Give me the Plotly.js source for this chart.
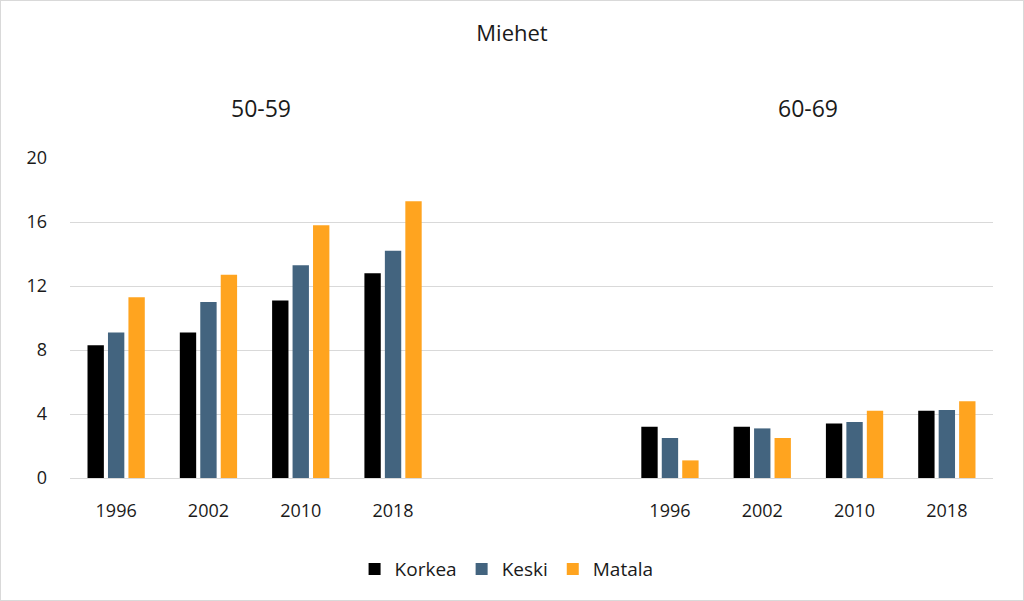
<!DOCTYPE html>
<html>
<head>
<meta charset="utf-8">
<script src="https://cdn.plot.ly/plotly-3.0.1.min.js"></script>
<style>
  html, body { margin: 0; padding: 0; background: #ffffff; }
  #chart { width: 1024px; height: 601px; box-sizing: border-box; border: 1px solid #d9d9d9; }
</style>
</head>
<body>
<div id="chart"></div>
<script>
// ---- Data ----
const years = ["1996", "2002", "2010", "2018"];
const groupLabels = ["50-59", "60-69"];
const seriesNames = ["Korkea", "Keski", "Matala"];

const korkea5059 = [8.3, 9.1, 11.1, 12.8];
const keski5059  = [9.1, 11.0, 13.3, 14.2];
const matala5059 = [11.3, 12.7, 15.8, 17.3];

const korkea6069 = [3.2, 3.2, 3.4, 4.2];
const keski6069  = [2.5, 3.1, 3.5, 4.25];
const matala6069 = [1.1, 2.5, 4.2, 4.8];

const yTicks = [0, 4, 8, 12, 16, 20];

// ---- Build traces ----
const colors = ["#000000", "#43647f", "#ffa41f"];
const FONT = "Open Sans, Noto Sans, sans-serif";
const TXT = "#1a1a1a";

// positions: group 1 at indices 0..3, two empty slots, group 2 at 6..9
const xG1 = years.map((_, i) => i);
const xG2 = years.map((_, i) => i + years.length + 2);
const xAll = xG1.concat(xG2);
const tickText = years.concat(years);

const seriesData = [
  korkea5059.concat(korkea6069),
  keski5059.concat(keski6069),
  matala5059.concat(matala6069)
];

const traces = seriesNames.map((name, k) => ({
  type: "bar",
  name: name,
  x: xAll,
  y: seriesData[k],
  marker: { color: colors[k] },
  hoverinfo: "name+y"
}));

const nCat = years.length * 2 + 2;
const g1Center = (xG1[0] + xG1[xG1.length - 1]) / 2;
const g2Center = (xG2[0] + xG2[xG2.length - 1]) / 2;

const layout = {
  width: 1022,
  height: 599,
  margin: { l: 69, r: 30, t: 157, b: 122 },
  paper_bgcolor: "#ffffff",
  plot_bgcolor: "#ffffff",
  font: { family: FONT, color: TXT, size: 18 },
  title: {
    text: "Miehet",
    font: { family: FONT, size: 22, color: TXT },
    x: 511 / 1022, xanchor: "center",
    y: 1 - 32 / 599, yanchor: "middle",
    xref: "container", yref: "container"
  },
  barmode: "group",
  bargap: 0.335,
  bargroupgap: 0.2,
  showlegend: true,
  legend: {
    orientation: "h",
    x: 0.473, xanchor: "center",
    y: -0.285, yanchor: "middle",
    font: { family: FONT, size: 19, color: TXT },
    itemwidth: 30,
    traceorder: "normal"
  },
  xaxis: {
    range: [-0.5, nCat - 0.5],
    tickmode: "array",
    tickvals: xAll,
    ticktext: tickText,
    showgrid: false,
    zeroline: false,
    showline: false,
    ticks: "",
    ticklabelstandoff: 20,
    tickfont: { family: FONT, size: 18, color: TXT },
    fixedrange: true
  },
  yaxis: {
    range: [0, 20],
    tickmode: "array",
    tickvals: yTicks,
    ticktext: yTicks.map(String),
    showgrid: true,
    gridcolor: "#d9d9d9",
    gridwidth: 1,
    zeroline: true,
    zerolinecolor: "#d9d9d9",
    zerolinewidth: 1,
    showline: false,
    ticks: "",
    ticklabelstandoff: 22,
    tickfont: { family: FONT, size: 18, color: TXT },
    fixedrange: true
  },
  annotations: [
    {
      text: groupLabels[0], xref: "x", yref: "paper",
      x: g1Center + 0.07, y: 1 + 50 / 320, xanchor: "center", yanchor: "middle",
      showarrow: false, font: { family: FONT, size: 23, color: TXT }
    },
    {
      text: groupLabels[1], xref: "x", yref: "paper",
      x: g2Center, y: 1 + 50 / 320, xanchor: "center", yanchor: "middle",
      showarrow: false, font: { family: FONT, size: 23, color: TXT }
    }
  ]
};

Plotly.newPlot("chart", traces, layout, { displayModeBar: false, staticPlot: true });
</script>
</body>
</html>
